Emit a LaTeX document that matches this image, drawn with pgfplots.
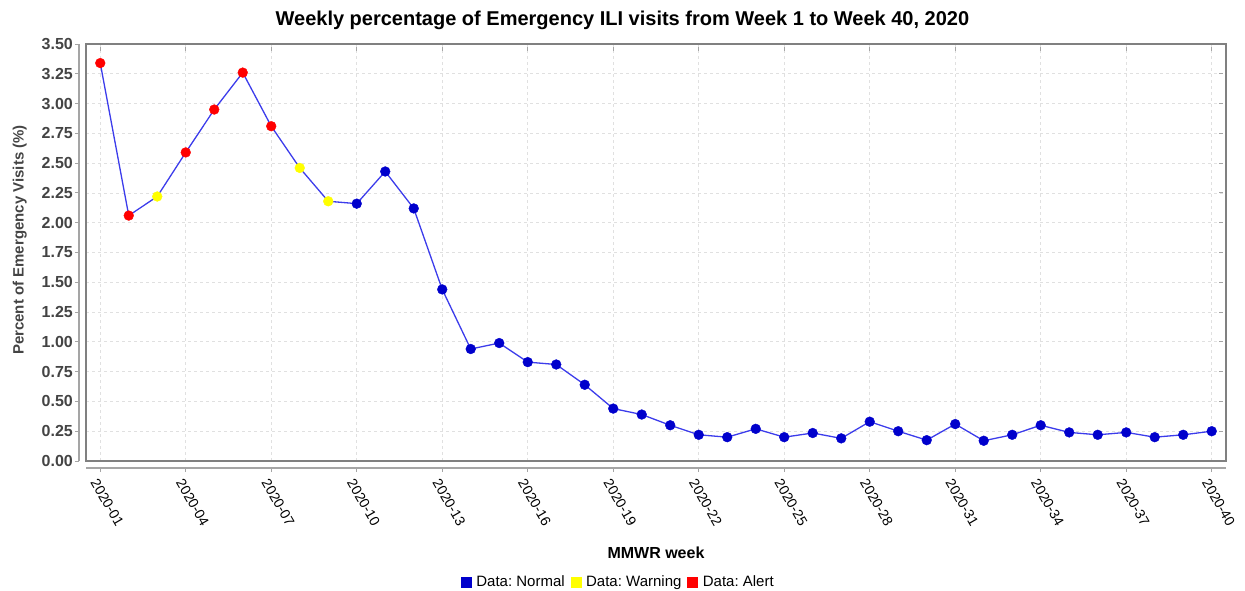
\documentclass[border=0pt]{standalone}
\usepackage{fontspec}
\setmainfont{Liberation Sans}
\usepackage{pgfplots}
\usepackage{pgfplotstable}
\pgfplotsset{compat=1.18}
\frenchspacing
\definecolor{normalblue}{RGB}{0,0,204}
\definecolor{linecol}{RGB}{60,60,235}
\definecolor{ticklab}{RGB}{68,68,68}
\definecolor{gridcol}{RGB}{224,224,224}
\definecolor{boxcol}{RGB}{128,128,128}
\definecolor{axcol}{RGB}{165,165,165}
\definecolor{warnyellow}{RGB}{255,255,0}
\definecolor{alertred}{RGB}{255,0,0}

\pgfplotstableread{
week val
1 3.34
2 2.06
3 2.22
4 2.59
5 2.95
6 3.26
7 2.81
8 2.46
9 2.18
10 2.16
11 2.43
12 2.12
13 1.44
14 0.94
15 0.99
16 0.83
17 0.81
18 0.64
19 0.44
20 0.39
21 0.30
22 0.22
23 0.20
24 0.27
25 0.20
26 0.235
27 0.19
28 0.33
29 0.25
30 0.175
31 0.31
32 0.17
33 0.22
34 0.30
35 0.24
36 0.22
37 0.24
38 0.20
39 0.22
40 0.25
}\datatable

\begin{document}
\begin{tikzpicture}
\useasboundingbox (0,0) rectangle (1245pt,590pt);
\begin{axis}[
  at={(86pt,129pt)}, anchor=south west,
  scale only axis, width=1140pt, height=417pt,
  xmin=0.5, xmax=40.5, ymin=0, ymax=3.5,
  clip=false,
  xtick={1,4,7,10,13,16,19,22,25,28,31,34,37,40},
  xticklabels={2020-01,2020-04,2020-07,2020-10,2020-13,2020-16,2020-19,2020-22,2020-25,2020-28,2020-31,2020-34,2020-37,2020-40},
  ytick={0,0.25,0.5,0.75,1,1.25,1.5,1.75,2,2.25,2.5,2.75,3,3.25,3.5},
  yticklabel style={/pgf/number format/.cd, fixed, fixed zerofill, precision=2, assume math mode=true, /tikz/.cd,
    font=\fontsize{16}{18}\selectfont\bfseries, text=ticklab, anchor=east, inner sep=0pt, xshift=-9pt},
  xticklabel style={xshift=-1.5pt, yshift=-12.4pt, rotate=-60, anchor=north west, inner sep=0pt, font=\fontsize{14}{16}\selectfont, text=black},
  grid=major,
  major grid style={gridcol, dash pattern=on 3pt off 3pt, line width=0.8pt},
  axis line style={boxcol, line width=1.2pt},
  tick align=outside, major tick length=4pt,
  xtick style={axcol, line width=1pt, yshift=-7pt},
  ytick style={axcol, line width=1pt, xshift=-7pt},
  title={Weekly percentage of Emergency ILI visits from Week 1 to Week 40, 2020},
  title style={at={(axis description cs:0.4706,1.062)}, anchor=center, yshift=-8pt, font=\fontsize{20}{24}\selectfont\bfseries},
  xlabel={MMWR week},
  xlabel style={at={(axis description cs:0.5,-0.2206)}, anchor=center, font=\fontsize{16}{19}\selectfont\bfseries},
  ylabel={Percent of Emergency Visits (\%)},
  ylabel style={at={(axis description cs:-0.058,0.53)}, anchor=center, rotate=0, font=\fontsize{15}{18}\selectfont\bfseries, text=ticklab},
  legend style={at={(axis description cs:0.467,-0.29)}, anchor=center, draw=none, fill=none,
    legend columns=-1, font=\fontsize{15}{17}\selectfont,
    /tikz/every odd column/.append style={column sep=3pt},
    /tikz/every even column/.append style={column sep=4pt}},
]
\addplot[forget plot, linecol, line width=1.3pt, mark=none] table[x=week, y=val] {\datatable};

\addplot[only marks, mark=*, mark size=4.9pt, mark options={draw=normalblue, fill=normalblue},
  legend image code/.code={\fill[normalblue] (0pt,-5pt) rectangle (10pt,5pt);}]
  coordinates {(10,2.16) (11,2.43) (12,2.12) (13,1.44) (14,0.94) (15,0.99) (16,0.83) (17,0.81) (18,0.64) (19,0.44) (20,0.39) (21,0.30) (22,0.22) (23,0.20) (24,0.27) (25,0.20) (26,0.235) (27,0.19) (28,0.33) (29,0.25) (30,0.175) (31,0.31) (32,0.17) (33,0.22) (34,0.30) (35,0.24) (36,0.22) (37,0.24) (38,0.20) (39,0.22) (40,0.25)};
\addlegendentry{Data: Normal}

\addplot[only marks, mark=*, mark size=4.9pt, mark options={draw=warnyellow, fill=warnyellow},
  legend image code/.code={\fill[warnyellow] (0pt,-5pt) rectangle (10pt,5pt);}]
  coordinates {(3,2.22) (8,2.46) (9,2.18)};
\addlegendentry{Data: Warning}

\addplot[only marks, mark=*, mark size=4.9pt, mark options={draw=alertred, fill=alertred},
  legend image code/.code={\fill[alertred] (0pt,-5pt) rectangle (10pt,5pt);}]
  coordinates {(1,3.34) (2,2.06) (4,2.59) (5,2.95) (6,3.26) (7,2.81)};
\addlegendentry{Data: Alert}

\draw[axcol, line width=2pt] ([xshift=-7pt]rel axis cs:0,0) -- ([xshift=-7pt]rel axis cs:0,1);
\draw[axcol, line width=2pt] ([yshift=-7pt]rel axis cs:0,0) -- ([yshift=-7pt]rel axis cs:1,0);
\end{axis}
\end{tikzpicture}
\end{document}
